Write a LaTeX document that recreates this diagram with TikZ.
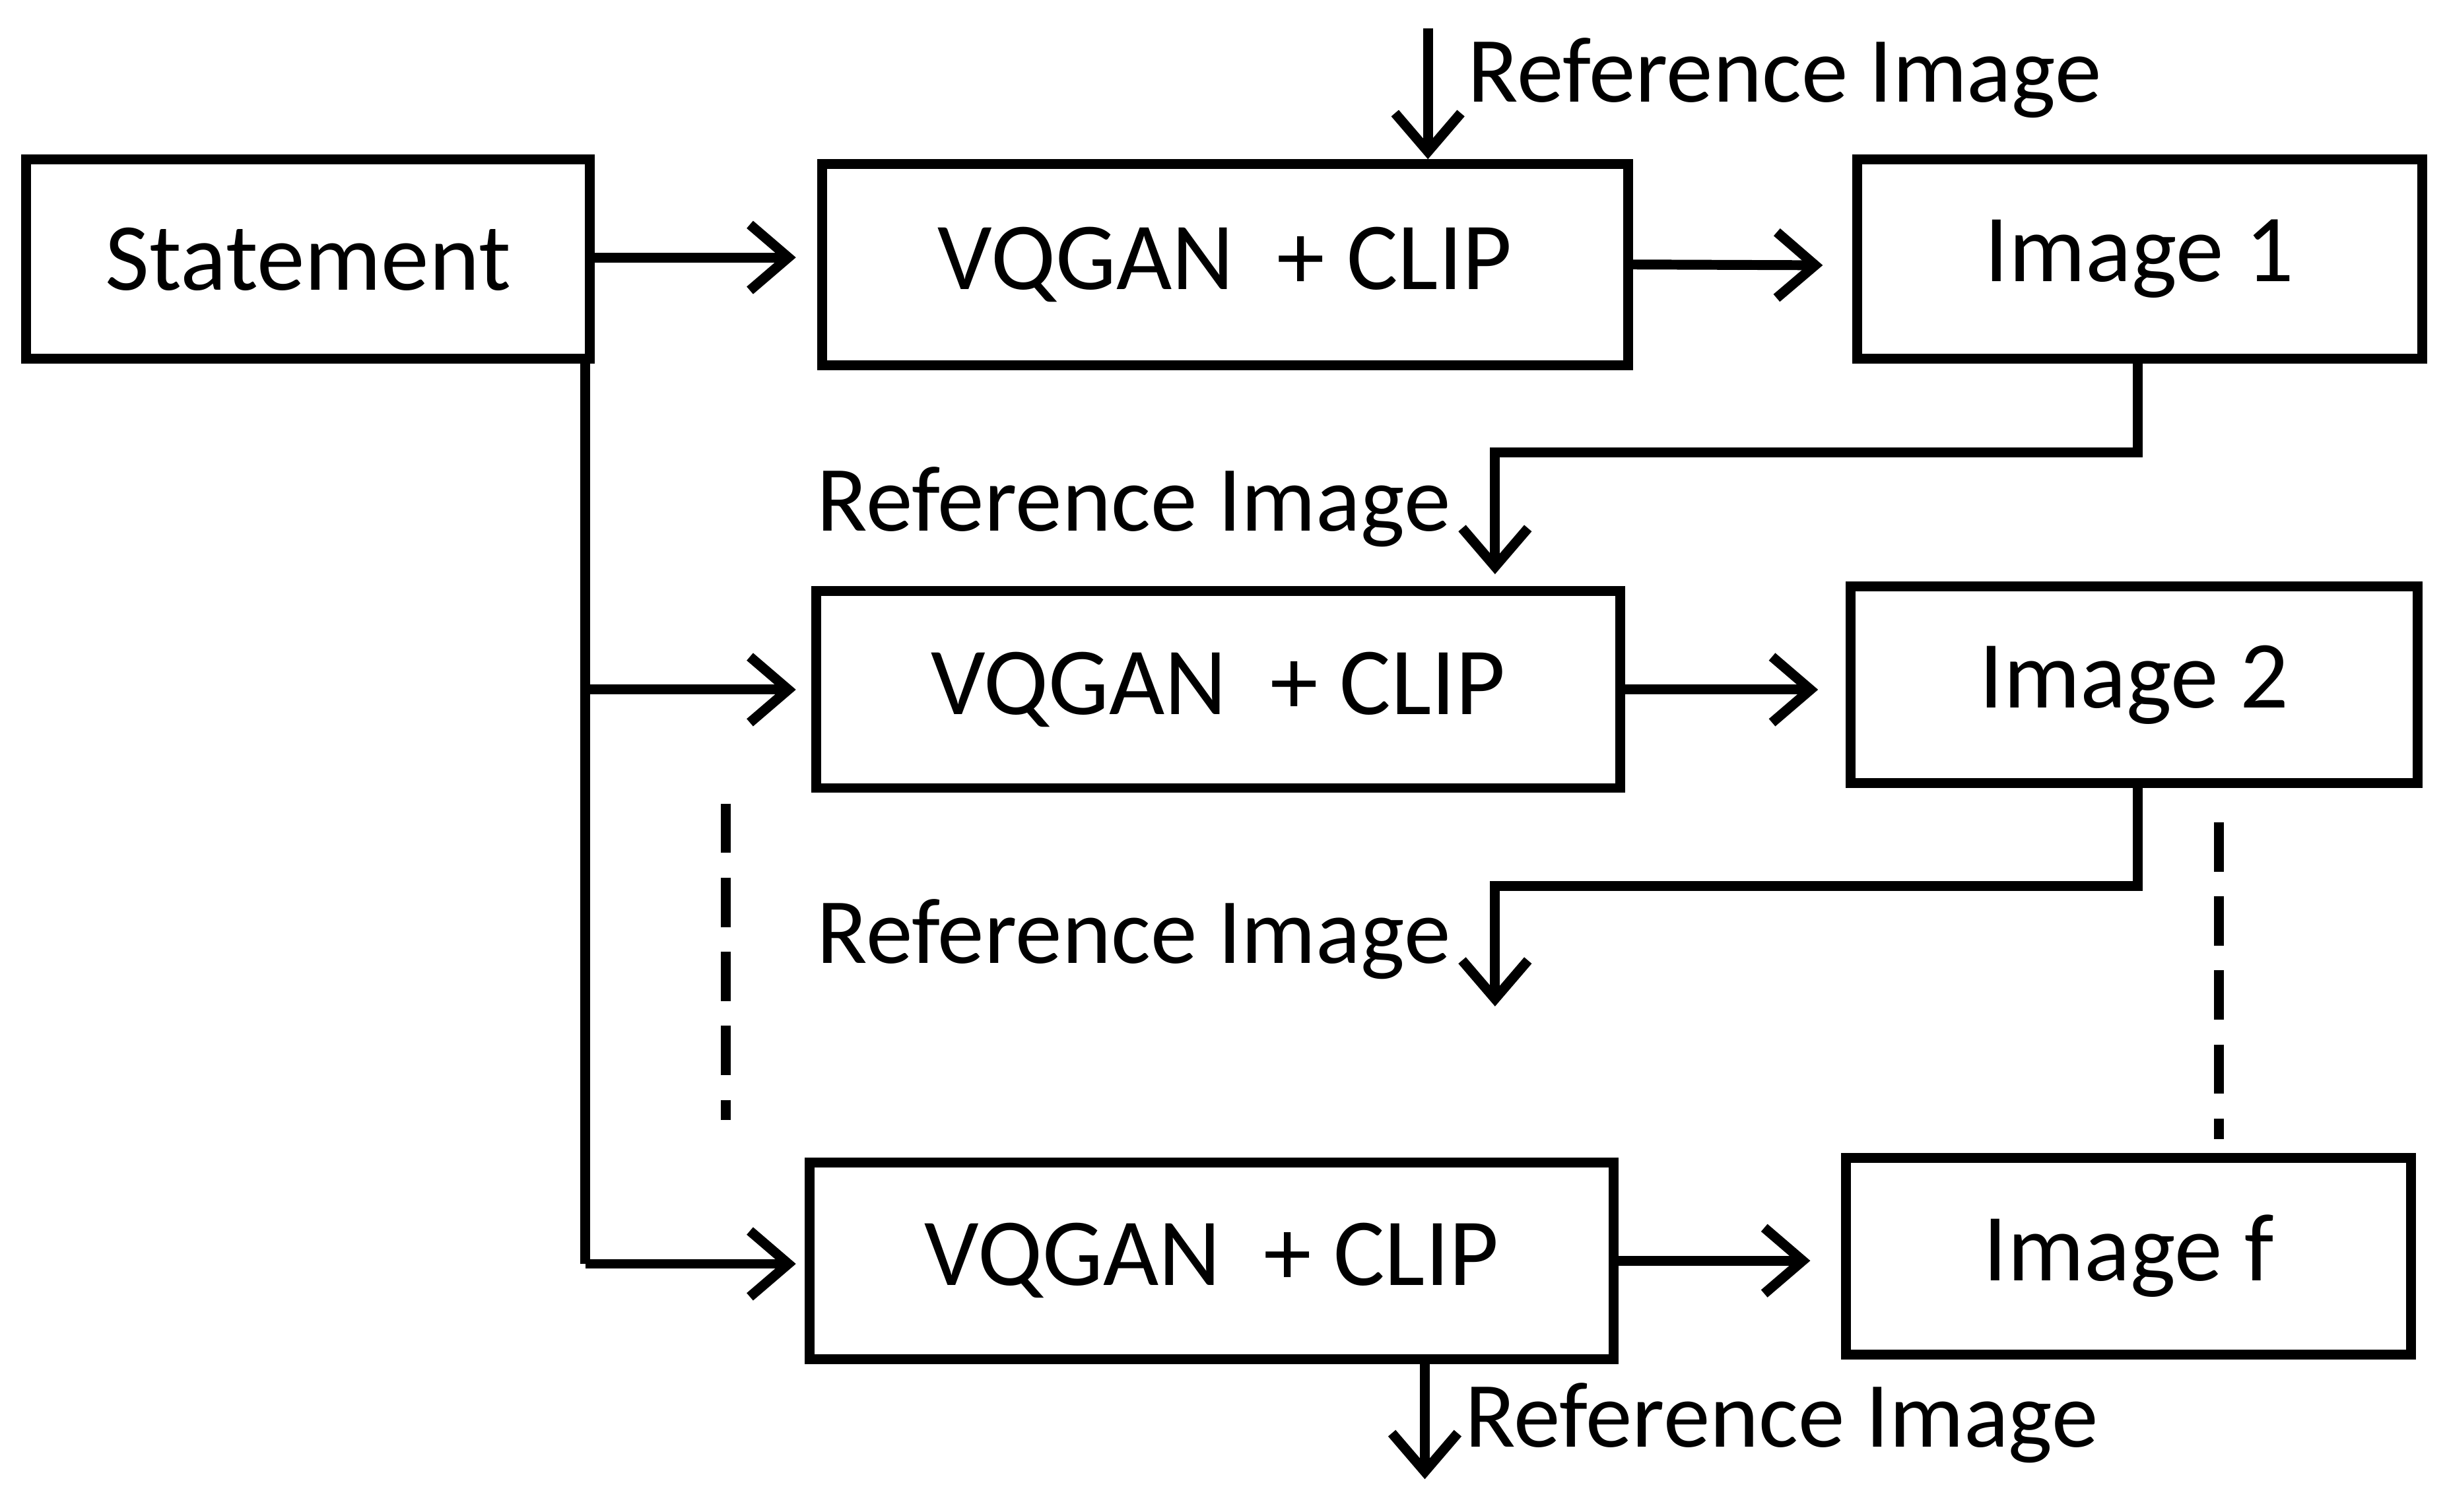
\documentclass[tikz,border=0pt]{standalone}
\usepackage{fontspec}
\setmainfont{Carlito}
\usetikzlibrary{arrows.meta}
\begin{document}
\begin{tikzpicture}[x=0.01cm,y=-0.01cm,
  box/.style={draw,line width=1.8pt,inner sep=0pt,font=\fontsize{17.5}{21}\selectfont},
  lbl/.style={font=\fontsize{17}{20}\selectfont,inner sep=0pt},
  ln/.style={line width=1.8pt},
  arr/.style={ln,-{Straight Barb[length=7pt,width=12pt,line width=1.8pt]}}]
\useasboundingbox (0,0) rectangle (1568,969);
\node[box,minimum width=3.61cm,minimum height=1.28cm] (st) at (197.5,166) {Statement};
\node[box,minimum width=5.16cm,minimum height=1.29cm] (v1) at (785,169.5) {VQGAN\ \ + CLIP};
\node[box,minimum width=3.62cm,minimum height=1.28cm] (i1) at (1371,166) {Image 1};
\node[box,minimum width=5.15cm,minimum height=1.26cm] (v2) at (780.5,442) {VQGAN\ \ + CLIP};
\node[box,minimum width=3.63cm,minimum height=1.26cm] (i2) at (1367.5,439) {Image 2};
\node[box,minimum width=5.15cm,minimum height=1.26cm] (v3) at (776.5,808) {VQGAN\ \ + CLIP};
\node[box,minimum width=3.62cm,minimum height=1.26cm] (if) at (1364,805) {Image f};
\coordinate (c1) at (375,230);
\coordinate (c2) at (375,810);
\draw[arr] (378,165) -- (510,165);
\draw[ln] (c1) -- (c2);
\draw[arr] (c2) -- (510,810);
\draw[arr] (375,442) -- (510,442);
\draw[arr] (v1.east) -- (1168,170);
\draw[arr] (v2.east) -- (1165,442);
\draw[arr] (1034,808) -- (1160,808);
\coordinate (t0) at (915,18);
\draw[arr] (t0) -- (915,102);
\node[lbl,anchor=west] (r0) at (940,50) {Reference Image};
\draw[arr] (1370,230) -- (1370,290) -- (958,290) -- (958,368);
\node[lbl,anchor=east] (r1) at (930,325) {Reference Image};
\draw[arr] (1370,502) -- (1370,568) -- (958,568) -- (958,645);
\node[lbl,anchor=east] (r2) at (930,602) {Reference Image};
\draw[ln,dash pattern=on 9pt off 4.5pt] (465,515) -- (465,718);
\draw[ln,dash pattern=on 9pt off 4.5pt] (1422,527) -- (1422,730);
\draw[arr] (913,871) -- (913,948);
\node[lbl,anchor=west] (r3) at (938,912) {Reference Image};
\end{tikzpicture}
\end{document}
